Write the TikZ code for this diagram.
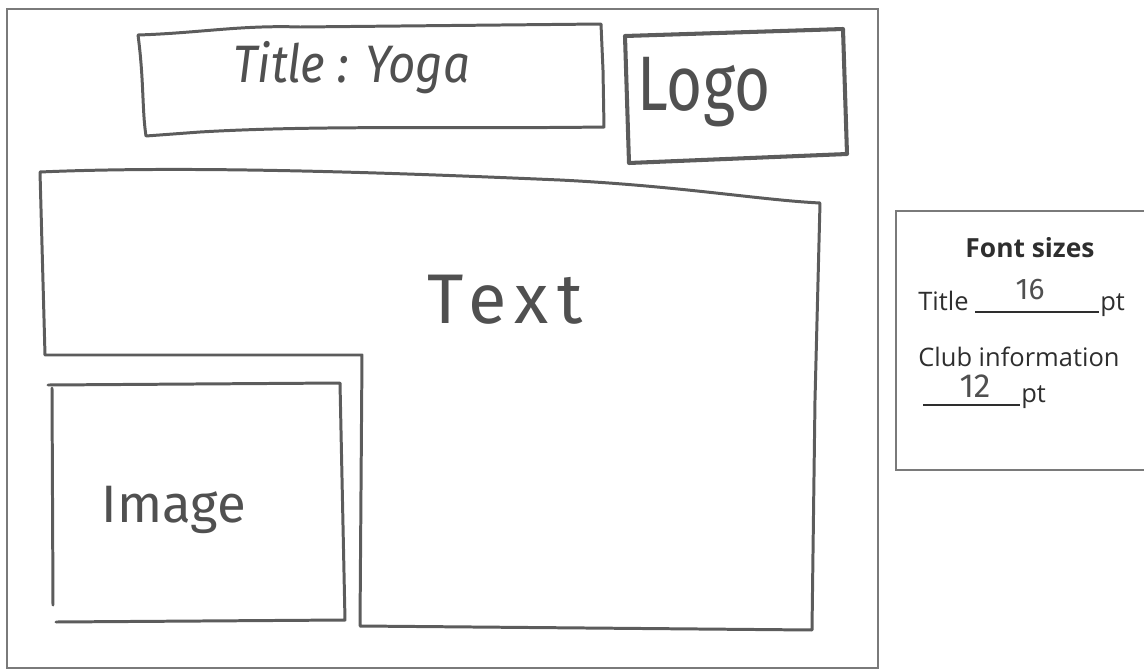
\documentclass[tikz,border=0pt]{standalone}
\usepackage{fontspec}
\setmainfont{Open Sans}
\newfontfamily\handfont{Fira Sans}
\usetikzlibrary{positioning}
\definecolor{penc}{HTML}{5C5C5C}
\definecolor{framec}{HTML}{7A7A7A}
\definecolor{inkc}{HTML}{505050}
\definecolor{textc}{HTML}{2E2E2E}
\tikzset{
  pen/.style={draw=penc, line width=1.7pt, line join=round, line cap=round},
  heavypen/.style={pen, line width=2.3pt},
  frameline/.style={draw=framec, line width=1.1pt},
  hand/.style={text=inkc, inner sep=0pt, font=\handfont\fontsize{#1}{#1}\selectfont},
  print/.style={text=textc, inner sep=0pt, anchor=base west, font=\fontsize{14.5}{17}\selectfont},
}

\begin{document}
\begin{tikzpicture}[x=0.02cm, y=-0.02cm]
    \useasboundingbox (0,0) rectangle (1144,670);
    % the page
    \draw[frameline] (7,668) -- (7,9) -- (878,9) -- (878,668) -- cycle;
    % title box
    \draw[pen] (138,35) .. controls (200,33) and (240,25) .. (300,27) -- (601,24)
        -- (603,70) -- (604,127) .. controls (450,129) and (320,125) .. (200,132)
        -- (146,136) .. controls (142,110) and (144,80) .. (138,35);
    \node[hand=30, xscale=0.9] (titlelbl) at (352,68) {\itshape Title : Yoga};
    % logo box
    \draw[heavypen] (625,36) -- (843,29) -- (847,154) -- (629,163) -- cycle;
    \node[hand=44, xscale=0.8] (logolbl) at (704,92) {Logo};
    % text area
    \draw[pen] (40,172) .. controls (200,165) and (420,174) .. (560,180)
        .. controls (680,186) and (760,200) .. (820,203)
        -- (815,400) -- (812,630) -- (360,626) -- (362,355) -- (45,355) -- cycle;
    \node[hand=40] (textlbl) at (505,300) {\addfontfeature{LetterSpace=12}Text};
    % image area
    \draw[pen] (48,385) -- (340,383) -- (345,620) -- (56,622);
    \draw[pen] (52,388) -- (53,605);
    \node[hand=30] (imagelbl) at (174,510) {Image};
    % font sizes panel
    \draw[frameline] (1150,211) -- (896,211) -- (896,470) -- (1150,470);
    \node[text=textc, font=\bfseries\fontsize{15}{18}\selectfont] (fshead) at (1030,248) {Font sizes};
    \node[print] (titlerow) at (918,310) {Title};
    \coordinate (lineA1) at (975,312);
    \coordinate (lineA2) at (1099,312);
    \draw[draw=textc, line width=0.8pt] (lineA1) -- (lineA2);
    \node[print] (ptA) at (1100,310) {pt};
    \node[hand=17] (sizeA) at (1030,290) {16};
    \node[print] (clubrow) at (918,366) {Club information};
    \coordinate (lineB1) at (923,405);
    \coordinate (lineB2) at (1020,405);
    \draw[draw=textc, line width=0.8pt] (lineB1) -- (lineB2);
    \node[print] (ptB) at (1021,402) {pt};
    \node[hand=19] (sizeB) at (975,386) {12};
\end{tikzpicture}
\end{document}
